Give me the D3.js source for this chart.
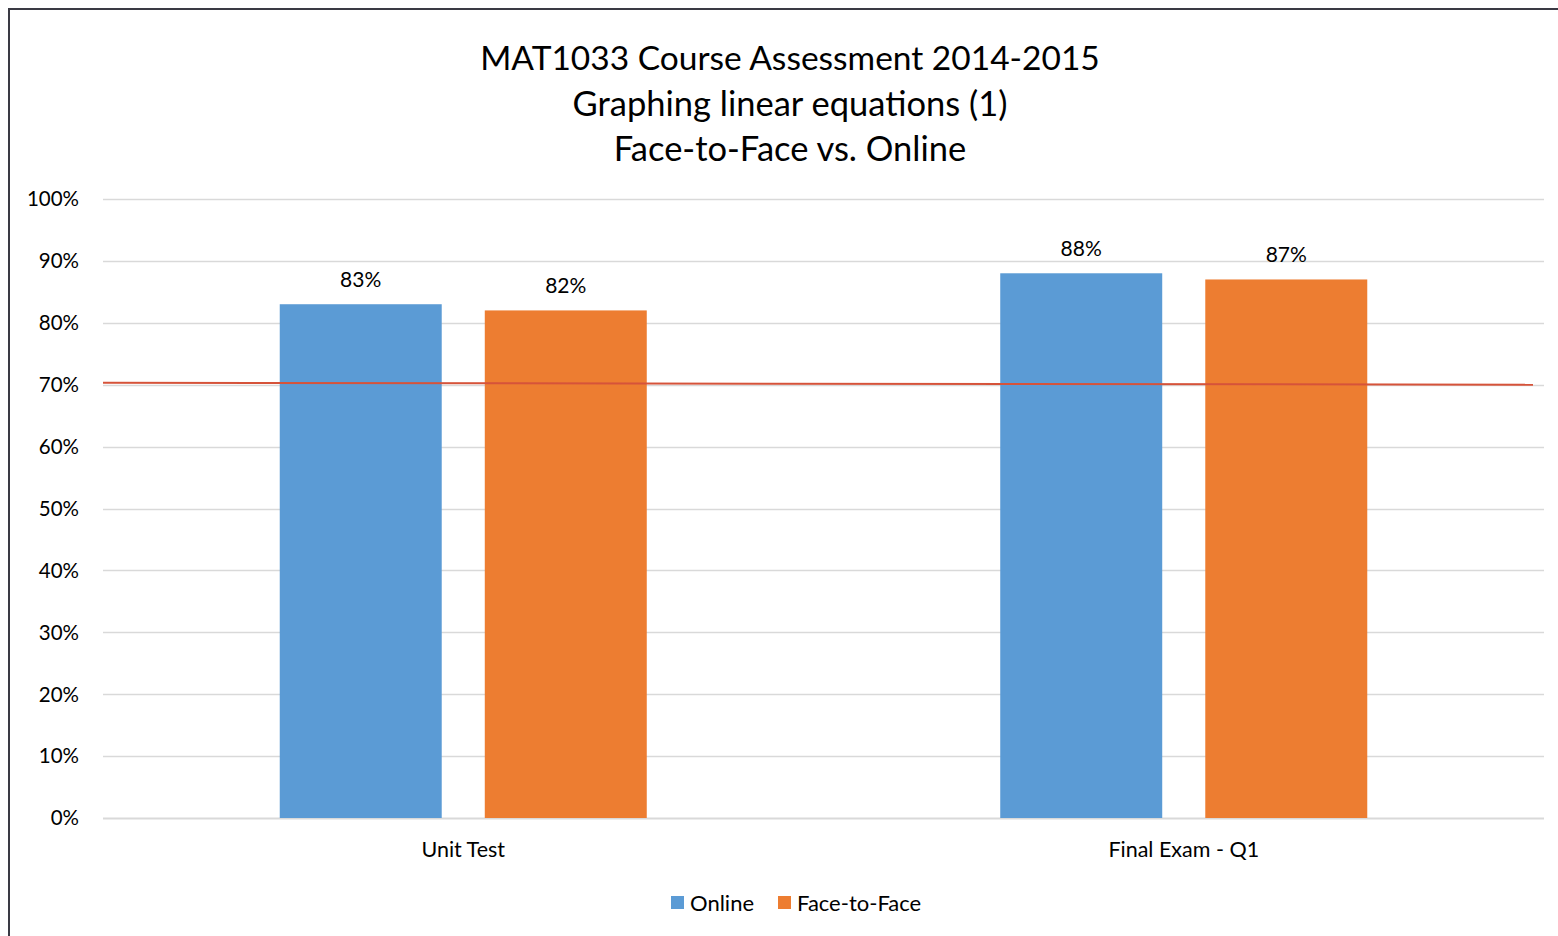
<!DOCTYPE html>
<html>
<head>
<meta charset="utf-8">
<script src="https://cdn.jsdelivr.net/npm/d3@7"></script>
<style>
  body { margin: 0; background: #fff; }
  svg { display: block; font-family: Lato, "Open Sans", sans-serif; }
</style>
</head>
<body>
<script>
// Data
const categories = ['Unit Test', 'Final Exam - Q1'];
const seriesNames = ['Online', 'Face-to-Face'];
const online = [83, 88];
const faceToFace = [82, 87];
const targetLine = [70.3, 70.0]; // hand-drawn benchmark line, left and right ends
const yTicks = [0, 10, 20, 30, 40, 50, 60, 70, 80, 90, 100];
const titleLines = ['MAT1033 Course Assessment 2014-2015', 'Graphing linear equations (1)', 'Face-to-Face vs. Online'];

const colors = { 'Online': '#5b9bd5', 'Face-to-Face': '#ed7d31' };

const width = 1558;
const height = 936;
const margin = { top: 199, right: 14, bottom: 118, left: 103 };

const svg = d3.select('body')
  .append('svg')
  .attr('width', width)
  .attr('height', height);

// chart frame
svg.append('rect')
  .attr('x', 9).attr('y', 9)
  .attr('width', width + 20).attr('height', height + 20)
  .attr('fill', '#fff')
  .attr('stroke', '#3a3a44')
  .attr('stroke-width', 2);

// title
svg.append('g')
  .selectAll('text')
  .data(titleLines)
  .enter()
  .append('text')
  .attr('x', 790)
  .attr('y', (d, i) => 70 + i * 45.5)
  .attr('text-anchor', 'middle')
  .style('font-size', (d, i) => i === 0 ? '33.5px' : '34.5px')
  .style('fill', '#000')
  .text(d => d);

const x0 = d3.scaleBand()
  .domain(categories)
  .range([margin.left, width - margin.right])
  .paddingInner(0.4906)
  .paddingOuter(0.2453);

const x1 = d3.scaleBand()
  .domain(seriesNames)
  .range([0, x0.bandwidth()])
  .paddingInner(0.21);

const y = d3.scaleLinear()
  .domain([0, 100])
  .range([height - margin.bottom, margin.top]);

// gridlines
svg.append('g')
  .selectAll('line')
  .data(yTicks)
  .enter()
  .append('line')
  .attr('x1', margin.left)
  .attr('x2', width - margin.right)
  .attr('y1', d => Math.round(y(d)) + 0.5)
  .attr('y2', d => Math.round(y(d)) + 0.5)
  .attr('stroke', '#d9d9d9')
  .attr('stroke-width', d => d === 0 ? 2 : 1.5);

// y tick labels
svg.append('g')
  .selectAll('text')
  .data(yTicks)
  .enter()
  .append('text')
  .attr('x', 79)
  .attr('y', d => y(d))
  .attr('dy', '0.36em')
  .attr('text-anchor', 'end')
  .style('font-size', '20.5px')
  .text(d => d + '%');

// bars
const rows = categories.map((c, i) => ({
  category: c,
  values: [
    { name: 'Online', value: online[i] },
    { name: 'Face-to-Face', value: faceToFace[i] }
  ]
}));

const groups = svg.append('g')
  .selectAll('g')
  .data(rows)
  .enter()
  .append('g')
  .attr('transform', d => `translate(${x0(d.category)},0)`);

groups.selectAll('rect')
  .data(d => d.values)
  .enter()
  .append('rect')
  .attr('x', d => x1(d.name))
  .attr('y', d => y(d.value))
  .attr('width', x1.bandwidth())
  .attr('height', d => y(0) - y(d.value))
  .attr('fill', d => colors[d.name]);

groups.selectAll('text')
  .data(d => d.values)
  .enter()
  .append('text')
  .attr('x', d => x1(d.name) + x1.bandwidth() / 2)
  .attr('y', d => y(d.value) - 25)
  .attr('dy', '0.36em')
  .attr('text-anchor', 'middle')
  .style('font-size', '21px')
  .text(d => d.value + '%');

// benchmark line
svg.append('line')
  .attr('x1', margin.left)
  .attr('x2', width - margin.right - 11)
  .attr('y1', y(targetLine[0]))
  .attr('y2', y(targetLine[1]))
  .attr('stroke', '#d6533a')
  .attr('stroke-width', 2);

// category labels
svg.append('g')
  .selectAll('text')
  .data(categories)
  .enter()
  .append('text')
  .attr('x', d => x0(d) + x0.bandwidth() / 2)
  .attr('y', 849)
  .attr('dy', '0.36em')
  .attr('text-anchor', 'middle')
  .style('font-size', '21.5px')
  .text(d => d);

// legend
const legend = svg.append('g')
  .selectAll('g')
  .data(seriesNames)
  .enter()
  .append('g')
  .attr('transform', (d, i) => `translate(${[671, 778][i]},903)`);

legend.append('rect')
  .attr('x', 0).attr('y', -7)
  .attr('width', 13).attr('height', 13)
  .attr('fill', d => colors[d]);

legend.append('text')
  .attr('x', 19)
  .attr('y', 0)
  .attr('dy', '0.36em')
  .style('font-size', '22px')
  .text(d => d);
</script>
</body>
</html>
